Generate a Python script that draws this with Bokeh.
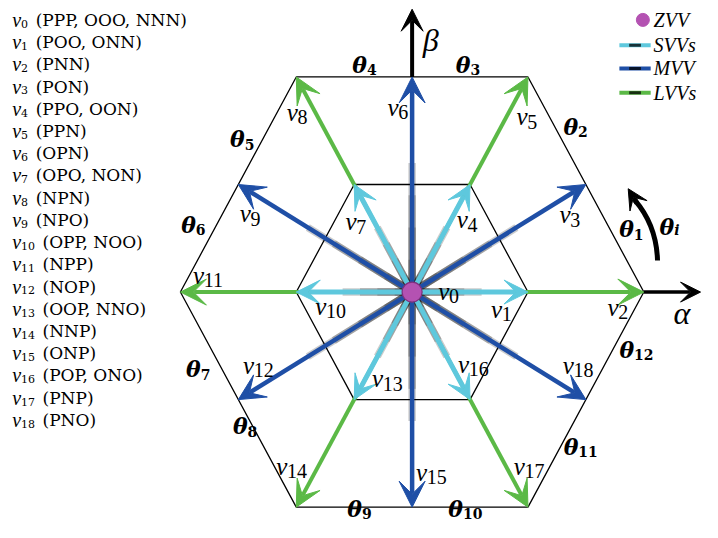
import math
from bokeh.plotting import figure
from bokeh.models import Arrow, VeeHead, ColumnDataSource, Range1d
from bokeh.core.properties import value
from bokeh.embed import file_html
from bokeh.resources import INLINE

# ---------------- data ----------------
vector_index = list(range(19))
switching_states = ["PPP, OOO, NNN", "POO, ONN", "PNN", "PON", "PPO, OON", "PPN",
                    "OPN", "OPO, NON", "NPN", "NPO", "OPP, NOO", "NPP", "NOP",
                    "OOP, NNO", "NNP", "ONP", "POP, ONO", "PNP", "PNO"]
vector_type = ["ZVV", "SVV", "LVV", "MVV", "SVV", "LVV", "MVV", "SVV", "LVV", "MVV",
               "SVV", "LVV", "MVV", "SVV", "LVV", "MVV", "SVV", "LVV", "MVV"]
vector_angle = [0, 0, 0, 30, 60, 60, 90, 120, 120, 150, 180, 180,
                210, 240, 240, 270, 300, 300, 330]
vector_length = [0, 1, 2, 1.732, 1, 2, 1.732, 1, 2, 1.732, 1, 2,
                 1.732, 1, 2, 1.732, 1, 2, 1.732]
hexagon_angles = [0, 60, 120, 180, 240, 300, 0]
outer_radius = 2.0
inner_radius = 1.0
sector_numbers = list(range(1, 13))
legend_items = ["ZVV", "SVVs", "MVV", "LVVs"]

# ---------------- layout ----------------
W, H = 702, 522
REF_W, REF_H = 718, 538     # reference picture size (pixels)
OX, OY = 421.0, 300.5       # origin in reference pixels
SX, SY = 118.5, 128.0       # reference pixels per unit


def X(px):
    return (px - OX) / SX


def Y(py):
    return (OY - py) / SY


GREEN = "#5bb946"
BLUE = "#1f4fa6"
CYAN = "#5ec8dd"
PURPLE = "#b452b2"
COLORS = {"SVV": CYAN, "MVV": BLUE, "LVV": GREEN}
WIDTHS = {"SVV": 5, "MVV": 4.5, "LVV": 4}
HEADS = {"SVV": 24, "MVV": 26, "LVV": 26}

SERIF = value("Liberation Serif")
DSERIF = value("DejaVu Serif")

p = figure(width=W, height=H, output_backend="svg", toolbar_location=None,
           x_range=Range1d(X(0), X(REF_W)), y_range=Range1d(Y(REF_H), Y(0)),
           x_axis_type=None, y_axis_type=None, min_border=0)
p.grid.visible = False
p.outline_line_color = None
p.background_fill_color = "white"

# hexagons
for r in (outer_radius, inner_radius):
    hx = [r * math.cos(math.radians(a)) for a in hexagon_angles]
    hy = [r * math.sin(math.radians(a)) for a in hexagon_angles]
    p.line(hx, hy, line_color="black", line_width=1.3)

# axes
p.add_layout(Arrow(x_start=0, y_start=outer_radius * 0.866, x_end=0, y_end=Y(9),
                   line_color="black", line_width=4,
                   end=VeeHead(size=22, fill_color="black", line_color="black")))
p.add_layout(Arrow(x_start=outer_radius, y_start=0, x_end=X(716), y_end=0,
                   line_color="black", line_width=3.5,
                   end=VeeHead(size=20, fill_color="black", line_color="black")))

# vector tips
tips_x = [L * math.cos(math.radians(a)) for L, a in zip(vector_length, vector_angle)]
tips_y = [L * math.sin(math.radians(a)) for L, a in zip(vector_length, vector_angle)]

# dark glow near centre for SVV / MVV
for kind in ("MVV", "SVV"):
    idx = [i for i in vector_index if vector_type[i] == kind]
    for f in (0.15, 0.3, 0.45, 0.6):
        p.segment(x0=[0] * len(idx), y0=[0] * len(idx),
                  x1=[tips_x[i] * f for i in idx], y1=[tips_y[i] * f for i in idx],
                  line_color="black", line_alpha=0.2, line_width=7.5)

for kind in ("LVV", "MVV", "SVV"):
    idx = [i for i in vector_index if vector_type[i] == kind]
    src = ColumnDataSource(dict(x0=[0.0] * len(idx), y0=[0.0] * len(idx),
                                x1=[tips_x[i] for i in idx], y1=[tips_y[i] for i in idx]))
    p.add_layout(Arrow(x_start="x0", y_start="y0", x_end="x1", y_end="y1", source=src,
                       line_color=COLORS[kind], line_width=WIDTHS[kind],
                       end=VeeHead(size=HEADS[kind], fill_color=COLORS[kind],
                                   line_color=COLORS[kind], line_width=1)))

# zero vector dot
zi = [i for i in vector_index if vector_type[i] == "ZVV"]
r = p.scatter([tips_x[i] for i in zi], [tips_y[i] for i in zi], size=20,
              fill_color=PURPLE, line_color="#7d2f7d", line_width=1.2)
r.level = "overlay"

# rotation arrow theta_i
p.quadratic(x0=X(672), y0=Y(268), x1=X(649), y1=Y(206), cx=X(671), cy=Y(232),
            line_color="black", line_width=5)
p.add_layout(Arrow(x_start=X(651), y_start=Y(209), x_end=X(642), y_end=Y(194),
                   line_color="black", line_width=5,
                   end=VeeHead(size=20, fill_color="black", line_color="black")))


def txt(*args, **kw):
    rr = p.text(*args, **kw)
    rr.level = "overlay"
    return rr


# vector labels (reference-pixel centres)
vlabel_pos = [(458, 302), (512, 320), (631, 318), (582, 223), (477, 228), (538, 122),
              (406, 112), (363, 230), (303, 117), (255, 222), (337, 317), (212, 285),
              (263, 378), (395, 392), (297, 482), (440, 488), (483, 377), (540, 482),
              (590, 378)]
vx, vy, sx_, sy_, st = [], [], [], [], []
for i, (cx, cy) in zip(vector_index, vlabel_pos):
    nd = len(str(i))
    total = 11 + 9.5 * nd
    left = cx - total / 2
    vx.append(X(left)); vy.append(Y(cy - 2))
    sx_.append(X(left + 11)); sy_.append(Y(cy + 3)); st.append(str(i))
txt(vx, vy, text=["v"] * len(vx), text_font=SERIF, text_font_style="italic",
    text_font_size="25px", text_align="left", text_baseline="middle", text_color="black")
txt(sx_, sy_, text=st, text_font=SERIF, text_font_size="20px",
    text_align="left", text_baseline="middle", text_color="black")

# sector labels
theta_pos = [(645, 238), (588, 132), (478, 68), (372, 68), (247, 145), (197, 233),
             (202, 382), (250, 441), (367, 526), (475, 526), (593, 462), (650, 362)]
tx, ty, tsx, tsy, tst = [], [], [], [], []
for k, (cx, cy) in zip(sector_numbers, theta_pos):
    nd = len(str(k))
    total = 15 + 9.5 * nd
    left = cx - total / 2
    tx.append(X(left)); ty.append(Y(cy - 2))
    tsx.append(X(left + 15)); tsy.append(Y(cy + 3)); tst.append(str(k))
txt(tx, ty, text=["θ"] * len(tx), text_font=DSERIF, text_font_style="bold italic",
    text_font_size="22px", text_align="left", text_baseline="middle")
txt(tsx, tsy, text=tst, text_font=DSERIF, text_font_style="bold",
    text_font_size="14px", text_align="left", text_baseline="middle")
# theta_i
txt([X(674)], [Y(233)], text=["θ"], text_font=DSERIF, text_font_style="bold italic",
    text_font_size="22px", text_align="left", text_baseline="middle")
txt([X(689)], [Y(237)], text=["i"], text_font=DSERIF, text_font_style="bold italic",
    text_font_size="14px", text_align="left", text_baseline="middle")

# axis labels
txt([X(440)], [Y(41)], text=["β"], text_font=SERIF, text_font_style="italic",
    text_font_size="32px", text_align="center", text_baseline="middle")
txt([X(697)], [Y(322)], text=["α"], text_font=SERIF, text_font_style="italic",
    text_font_size="32px", text_align="center", text_baseline="middle")

# left list of switching states
lx, ly, lsx, lsy, lst, px_, py_, pt = [], [], [], [], [], [], [], []
for i, s in zip(vector_index, switching_states):
    yy = 20 + 22.9 * i
    lx.append(X(12)); ly.append(Y(yy))
    lsx.append(X(21)); lsy.append(Y(yy + 4)); lst.append(str(i))
    px_.append(X(36 if i < 10 else 43)); py_.append(Y(yy)); pt.append("(" + s + ")")
txt(lx, ly, text=["v"] * len(lx), text_font=SERIF, text_font_style="italic",
    text_font_size="20px", text_align="left", text_baseline="middle")
txt(lsx, lsy, text=lst, text_font=DSERIF, text_font_size="11px",
    text_align="left", text_baseline="middle")
txt(px_, py_, text=pt, text_font=DSERIF, text_font_size="17px",
    text_align="left", text_baseline="middle")

# legend
leg_y = [20, 46, 70, 95]
leg_col = [PURPLE, CYAN, BLUE, GREEN]
p.scatter([X(657)], [Y(leg_y[0])], size=13, fill_color=PURPLE, line_color=PURPLE)
p.segment(x0=[X(633)] * 3, y0=[Y(v) for v in leg_y[1:]], x1=[X(665)] * 3,
          y1=[Y(v) for v in leg_y[1:]], line_color=leg_col[1:], line_width=4)
p.segment(x0=[X(643)] * 3, y0=[Y(v) for v in leg_y[1:]], x1=[X(655)] * 3,
          y1=[Y(v) for v in leg_y[1:]], line_color="black", line_alpha=0.75, line_width=3)
txt([X(668)] * 4, [Y(v) for v in leg_y], text=legend_items, text_font=SERIF,
    text_font_style="italic", text_font_size="20px", text_align="left",
    text_baseline="middle")

open("out.html", "w").write(file_html(p, INLINE))
